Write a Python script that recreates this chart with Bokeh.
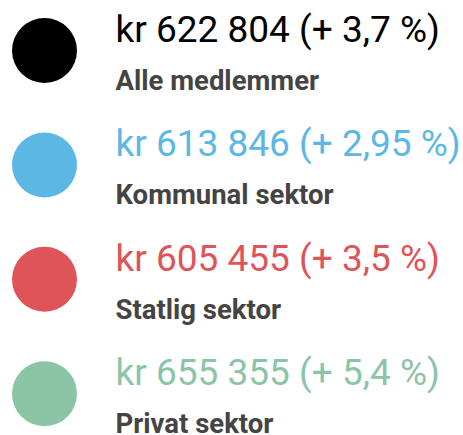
from bokeh.plotting import figure
from bokeh.models import Range1d, ColumnDataSource
from bokeh.core.properties import value
from bokeh.embed import file_html
from bokeh.resources import INLINE

# data
labels = ["Alle medlemmer", "Kommunal sektor", "Statlig sektor", "Privat sektor"]
amounts = ["622 804", "613 846", "605 455", "655 355"]
changes = ["3,7", "2,95", "3,5", "5,4"]
colors = ["#000000", "#5DB7E5", "#DE5458", "#8CC4A6"]
rows = [0, 1, 2, 3]

main_texts = ["kr %s (+ %s %%)" % (a, c) for a, c in zip(amounts, changes)]

W, H = 463, 435
p = figure(width=W, height=H, output_backend="svg", toolbar_location=None,
           x_range=Range1d(0, W), y_range=Range1d(3.365, -0.437),
           min_border=0)
p.axis.visible = False
p.grid.visible = False
p.outline_line_color = None
p.background_fill_color = "white"
p.border_fill_color = "white"

src = ColumnDataSource(dict(y=rows, main=main_texts, sub=labels, color=colors,
                            cx=[44] * 4, tx=[115] * 4))

p.scatter(x="cx", y="y", source=src, size=65, fill_color="color", line_color=None)
p.text(x="tx", y="y", text="main", source=src, text_color="color",
       text_font=value("Roboto"), text_font_size="37px",
       text_baseline="alphabetic", y_offset=-21)
p.text(x="tx", y="y", text="sub", source=src, text_color="#444444",
       text_font=value("Roboto"), text_font_style="bold", text_font_size="27.5px",
       text_baseline="alphabetic", y_offset=30)

open("out.html", "w").write(file_html(p, INLINE))
